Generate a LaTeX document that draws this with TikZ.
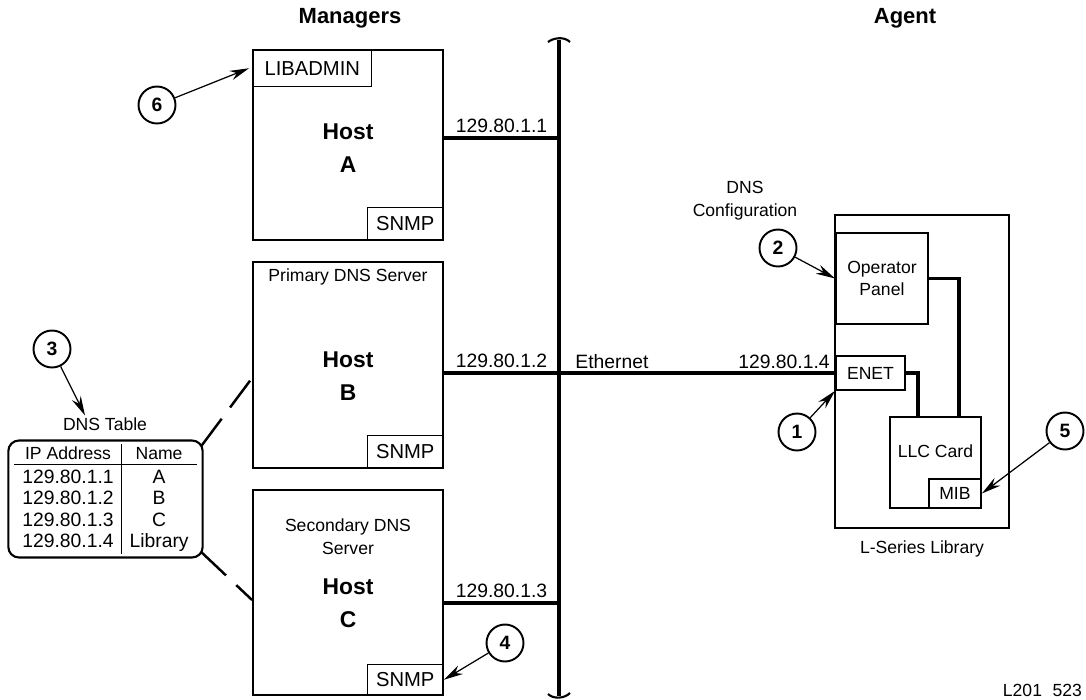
\documentclass[tikz,border=0pt]{standalone}
\usepackage{fontspec}
\setmainfont{Liberation Sans}
\usetikzlibrary{arrows.meta}
\usetikzlibrary{positioning}

\newcommand{\txtfont}{\fontsize{10}{13}\selectfont}
\newcommand{\ipfont}{\fontsize{11}{12.2}\selectfont}
\newcommand{\tagfont}{\fontsize{11.5}{13}\selectfont}
\newcommand{\hostfont}{\fontsize{13}{18.5}\selectfont\bfseries}
\newcommand{\headfont}{\fontsize{12.5}{15}\selectfont\bfseries}

\begin{document}
\begin{tikzpicture}[
    x=0.02cm, y=-0.02cm,
    box/.style={draw, line width=1.1pt, inner sep=0pt},
    tag/.style={draw, line width=0.8pt, inner sep=0pt, font=\tagfont},
    txt/.style={font=\txtfont, align=center, inner sep=1pt},
    ip/.style={font=\ipfont, inner sep=2pt},
    hostname/.style={font=\hostfont, align=center},
    heading/.style={font=\headfont},
    callout/.style={circle, draw, line width=1.1pt, minimum size=0.74cm,
      inner sep=0pt, font=\ipfont\bfseries},
    pointer/.style={line width=0.7pt, -{Stealth[length=11pt, width=5.5pt]}},
    bus/.style={line width=2.4pt},
    link/.style={line width=2pt},
    dnslink/.style={line width=1.4pt, dash pattern=on 19pt off 8pt},
  ]
  \useasboundingbox (0,0) rectangle (1086,700);

  % headings
  \node[heading] (mgr) at (350,18) {Managers};
  \node[heading] (agt) at (905,18) {Agent};

  % Ethernet bus
  \coordinate (bustop) at (559,40);
  \coordinate (busbot) at (559,696);
  \draw[bus] (bustop) -- (busbot);
  \draw[line width=1.2pt] (548,42) .. controls (553,38) and (564,36) .. (570,42);
  \draw[line width=1.2pt] (548,694) .. controls (553,699) and (564,699) .. (570,693);

  % === Host A ===
  \node[box, minimum width=3.8cm, minimum height=3.8cm] (hostA) at (348,145) {};
  \node[tag, anchor=north west, minimum width=2.38cm, minimum height=0.74cm]
    (libadm) at (hostA.north west) {LIBADMIN};
  \node[tag, anchor=south east, minimum width=1.52cm, minimum height=0.66cm]
    (snmpA) at (hostA.south east) {SNMP};
  \node[hostname] (nameA) at (348,148) {Host\\A};
  \coordinate (tapA) at (559,138);
  \draw[link] (hostA.east |- tapA) -- node[ip, above] (ipA) {129.80.1.1} (tapA);

  % === Host B ===
  \node[box, minimum width=3.8cm, minimum height=4.12cm] (hostB) at (348,365) {};
  \node[tag, anchor=south east, minimum width=1.52cm, minimum height=0.66cm]
    (snmpB) at (hostB.south east) {SNMP};
  \node[txt] (roleB) at (348,277) {Primary DNS Server};
  \node[hostname] (nameB) at (348,376) {Host\\B};

  % === Host C ===
  \node[box, minimum width=3.8cm, minimum height=4.1cm] (hostC) at (348,592.5) {};
  \node[tag, anchor=south east, minimum width=1.52cm, minimum height=0.62cm]
    (snmpC) at (hostC.south east) {SNMP};
  \node[txt] (roleC) at (348,537) {Secondary DNS\\Server};
  \node[hostname] (nameC) at (348,603) {Host\\C};
  \coordinate (tapC) at (559,603);
  \draw[link] (hostC.east |- tapC) -- node[ip, above] (ipC) {129.80.1.3} (tapC);

  % === L-Series library (agent) ===
  \node[box, minimum width=3.48cm, minimum height=6.26cm] (lib) at (922,371.5) {};
  \node[box, anchor=north west, minimum width=1.84cm, minimum height=1.82cm,
    font=\txtfont, align=center] (panel) at (835,232) {Operator\\Panel};
  \node[box, anchor=north west, minimum width=1.38cm, minimum height=0.68cm,
    font=\txtfont] (enet) at (835,355) {ENET};
  \node[box, anchor=north west, minimum width=1.82cm, minimum height=1.82cm]
    (llc) at (889,416) {};
  \node[txt] (llclbl) at ([yshift=0.22cm]llc.center) {LLC Card};
  \node[box, anchor=south east, minimum width=1.04cm, minimum height=0.58cm,
    font=\txtfont] (mib) at (llc.south east) {MIB};
  \node[txt, below=0.2cm of lib] (libname) {L-Series Library};
  \node[txt] (dnscfg) at (745,201) {DNS\\Configuration};

  \draw[link] (enet.east) -| ([xshift=-0.35cm]llc.north);
  \draw[link] (panel.east) -| ([xshift=0.47cm]llc.north);

  % Ethernet link B -- library
  \coordinate (tapB) at (bustop |- enet.west);
  \draw[link] (hostB.east |- tapB) -- node[ip, above] (ipB) {129.80.1.2} (tapB);
  \draw[link] (tapB) -- (enet.west);
  \node[ip, above right=0pt and 0.25cm of tapB] (ethlbl) {Ethernet};
  \node[ip, above left=0pt and 0.03cm of enet.west] (ipL) {129.80.1.4};

  % DNS table
  \node[txt] (dnslbl) at (105,424) {DNS Table};
  \node[draw, line width=1.2pt, rounded corners=6pt, inner xsep=3.5pt,
    inner ysep=2pt, font=\ipfont] (dnstbl) at (105.5,499) {%
    \setlength{\tabcolsep}{4.5pt}\setlength{\arrayrulewidth}{0.6pt}%
    \begin{tabular}{c|c}
      {\txtfont IP Address} & {\txtfont Name}\\[-1pt] \hline
      \rule{0pt}{10.5pt}129.80.1.1 & A\\
      129.80.1.2 & B\\
      129.80.1.3 & C\\
      129.80.1.4 & Library
    \end{tabular}};
  \draw[dnslink] ([xshift=-0.04cm, yshift=-0.12cm]dnstbl.north east)
    -- ([yshift=-0.26cm]hostB.west);
  \draw[dnslink] ([xshift=-0.04cm, yshift=0.12cm]dnstbl.south east)
    -- ([yshift=-0.15cm]hostC.west);

  % callouts
  \node[callout] (c1) at (797,432) {1};
  \node[callout] (c2) at (778,248) {2};
  \node[callout] (c3) at (52,349) {3};
  \node[callout] (c4) at (505,643) {4};
  \node[callout] (c5) at (1065,431) {5};
  \node[callout] (c6) at (157,105) {6};
  \draw[pointer] (c1) -- (enet.south west);
  \draw[pointer] (c2) -- (panel.west);
  \draw[pointer] (c3) -- ([xshift=-0.4cm]dnslbl.north);
  \draw[pointer] (c4) -- (snmpC.east);
  \draw[pointer] (c5) -- (mib.east);
  \draw[pointer] (c6) -- ([xshift=-0.06cm]libadm.west);

  \node[txt, anchor=east] (figid) at (1084,690) {L201\hspace{0.6em}523};
\end{tikzpicture}
\end{document}
